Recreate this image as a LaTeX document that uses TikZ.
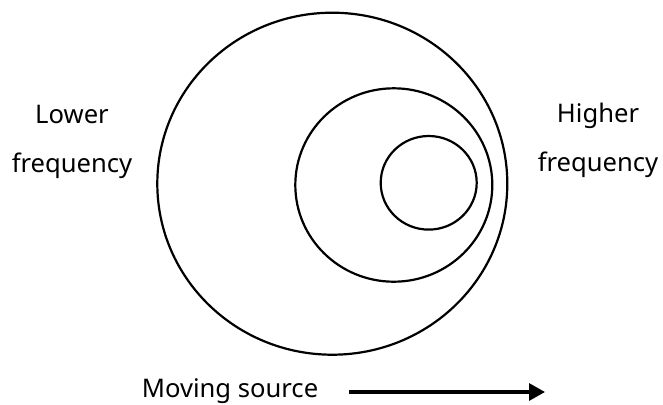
\documentclass[tikz,border=0pt]{standalone}
\usepackage{fontspec}
\setmainfont{Noto Sans}
\usetikzlibrary{arrows.meta, positioning}
\tikzstyle{freq} = [align=center, inner sep=0pt, anchor=base, font=\fontsize{12.8}{24.3}\selectfont]
\tikzstyle{wave} = [line width=1.1pt]
\tikzstyle{arrow} = [line width=1.6pt, -{Triangle[length=8pt, width=8.5pt]}]

\begin{document}
\begin{tikzpicture}[x=0.5pt, y=0.5pt]
\useasboundingbox (0,0) rectangle (663,404);

% Wave fronts
\draw [wave] (332.3,220.3) ellipse [x radius=175, y radius=171];
\draw [wave] (393.8,219) ellipse [x radius=98.5, y radius=96.7];
\draw [wave] (428.7,221.2) ellipse [x radius=48, y radius=46.8];

% Nodes
\node (lower) [freq] at (72,232) {Lower\\frequency};
\node (higher) [freq] at (598,233) {Higher\\frequency};
\node (source) [freq] at (230,7) {Moving source};

\coordinate (tail) at (349,12);
\coordinate (head) at (545,12);

% Arrows
\draw [arrow] (tail) -- (head);

\end{tikzpicture}
\end{document}
